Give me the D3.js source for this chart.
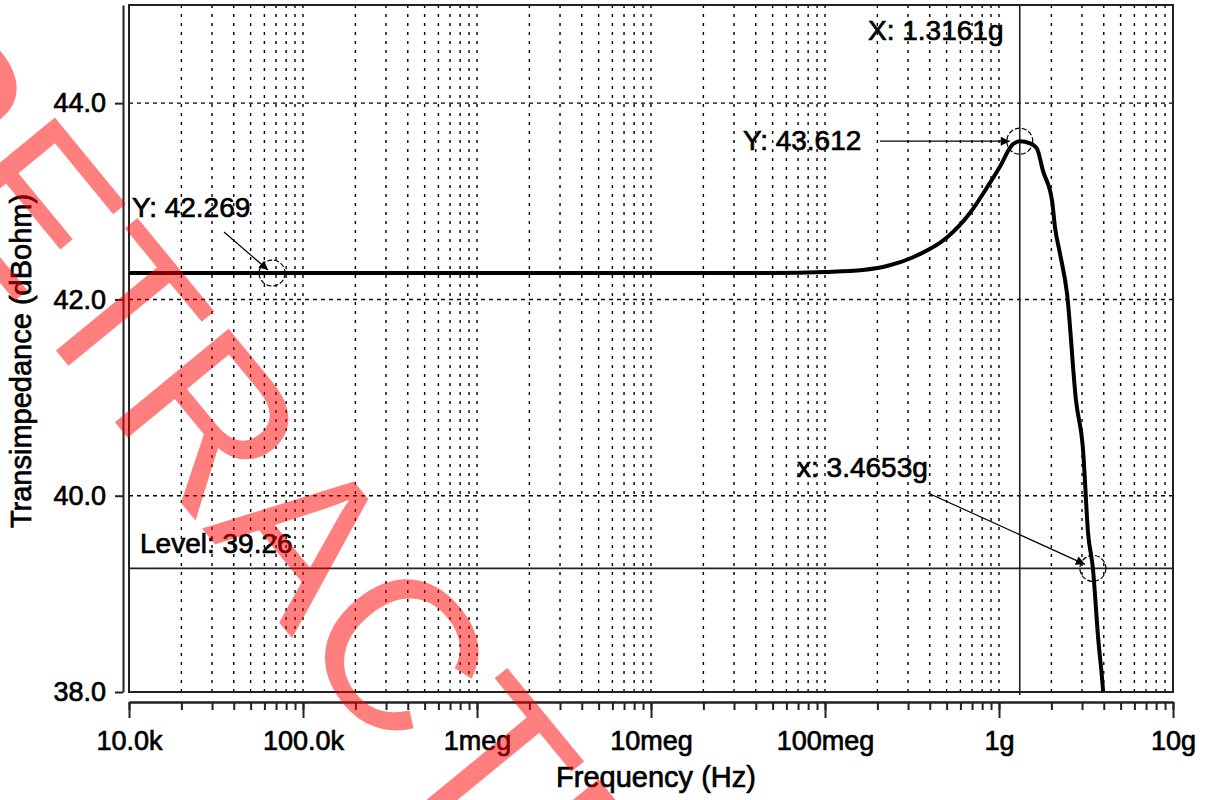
<!DOCTYPE html>
<html>
<head>
<meta charset="utf-8">
<script src="https://cdn.jsdelivr.net/npm/d3@7"></script>
<style>
  body { margin: 0; background: #fff; }
  text { font-family: "Liberation Sans", Arial, sans-serif; fill: #000; }
  .ink { stroke: #000; stroke-width: 0.7px; }
</style>
</head>
<body>
<div class="chart"></div>
<script>
// curve values
var freqHz = [1e4, 3e4, 1e5, 1e6, 1e7, 5e7, 1e8, 1.65e8, 2.27e8, 3.21e8, 5.02e8, 6.81e8, 8.53e8,
  1.01e9, 1.2e9, 1.3161e9, 1.51e9, 1.65e9, 1.79e9, 2.02e9, 2.10e9, 2.24e9, 2.46e9, 2.77e9,
  3.04e9, 3.25e9, 3.4653e9, 3.71e9, 3.96e9, 4.1e9];
var transZ = [42.269, 42.269, 42.269, 42.269, 42.269, 42.27, 42.28, 42.30, 42.34, 42.43, 42.63, 42.88, 43.14,
  43.35, 43.58, 43.612, 43.59, 43.54, 43.31, 43.00, 42.73, 42.47, 42.06, 40.97,
  40.47, 39.62, 39.26, 38.56, 38.02, 37.6];

// cursor markers
var markerFreq = [6.64e4, 1.3161e9, 3.4653e9];
var markerVal = [42.269, 43.612, 39.26];
var cursorX = 1.3161e9;
var levelY = 39.26;

var yTicks = [38, 40, 42, 44];
var xMajor = [1e4, 1e5, 1e6, 1e7, 1e8, 1e9, 1e10];
var xLabels = ["10.0k", "100.0k", "1meg", "10meg", "100meg", "1g", "10g"];

var svgWidth = 1207;
var svgHeight = 800;

var svg = d3.select(".chart")
  .append("svg")
  .attr("width", svgWidth)
  .attr("height", svgHeight);

var x = d3.scaleLog().domain([1e4, 1e10]).range([129, 1173]);
var y = d3.scaleLinear().domain([38, 45]).range([692, 5]);

// minor tick values 2..9 per decade plus decades
var xMinor = [];
for (var d = 4; d < 10; d++) {
  for (var m = 1; m <= 9; m++) xMinor.push(m * Math.pow(10, d));
}
xMinor.push(1e10);

// vertical dotted grid
svg.append("g").selectAll("line")
  .data(xMinor.filter(v => v > 1e4 && v < 1e10))
  .enter().append("line")
  .attr("x1", d => x(d)).attr("x2", d => x(d))
  .attr("y1", y(45)).attr("y2", y(38))
  .attr("stroke", "#000")
  .attr("stroke-width", 1.4)
  .attr("stroke-dasharray", "3,6");

// horizontal dashed grid
svg.append("g").selectAll("line")
  .data(yTicks.filter(v => v > 38))
  .enter().append("line")
  .attr("x1", x(1e4)).attr("x2", x(1e10))
  .attr("y1", d => y(d)).attr("y2", d => y(d))
  .attr("stroke", "#000")
  .attr("stroke-width", 1.4)
  .attr("stroke-dasharray", "4,4");

// plot frame
svg.append("rect")
  .attr("x", x(1e4)).attr("y", y(45))
  .attr("width", x(1e10) - x(1e4))
  .attr("height", y(38) - y(45))
  .attr("fill", "none")
  .attr("stroke", "#222")
  .attr("stroke-width", 2);

// y axis (separate from frame)
var leftAxis = d3.axisLeft(y)
  .tickValues(yTicks)
  .tickFormat(d3.format(".1f"))
  .tickSize(8)
  .tickSizeOuter(0)
  .tickPadding(9);

var yAxisG = svg.append("g")
  .attr("transform", "translate(123,0)")
  .call(leftAxis);
yAxisG.selectAll("text").classed("ink", true).style("font-size", "27px");

// x axis: minor ticks then major ticks with labels
var minorAxis = d3.axisBottom(x)
  .tickValues(xMinor)
  .tickFormat("")
  .tickSize(8)
  .tickSizeOuter(0);

var majorAxis = d3.axisBottom(x)
  .tickValues(xMajor)
  .tickFormat((d, i) => xLabels[i])
  .tickSize(16)
  .tickSizeOuter(0)
  .tickPadding(13);

svg.append("g").attr("transform", "translate(0,702)").call(minorAxis);
var xAxisG = svg.append("g").attr("transform", "translate(0,702)").call(majorAxis);
xAxisG.selectAll("text").classed("ink", true).style("font-size", "27px");

svg.selectAll(".domain, .tick line")
  .attr("stroke", "#222")
  .attr("stroke-width", 2);

// axis titles
svg.append("text")
  .attr("class", "ink")
  .attr("x", 656).attr("y", 787)
  .attr("text-anchor", "middle")
  .style("font-size", "29px")
  .text("Frequency (Hz)");

svg.append("text")
  .attr("class", "ink")
  .attr("transform", "translate(31,361) rotate(-90)")
  .attr("text-anchor", "middle")
  .style("font-size", "29px")
  .text("Transimpedance (dBohm)");

// cursors
svg.append("line")
  .attr("x1", x(cursorX)).attr("x2", x(cursorX))
  .attr("y1", y(45)).attr("y2", y(38) + 3)
  .attr("stroke", "#222").attr("stroke-width", 1.6);

svg.append("line")
  .attr("x1", x(1e4)).attr("x2", x(1e10))
  .attr("y1", y(levelY)).attr("y2", y(levelY))
  .attr("stroke", "#222").attr("stroke-width", 1.6);

// curve
svg.append("clipPath").attr("id", "plotClip")
  .append("rect")
  .attr("x", x(1e4)).attr("y", y(45))
  .attr("width", x(1e10) - x(1e4))
  .attr("height", y(38) - y(45));

var line = d3.line()
  .x((d, i) => x(freqHz[i]))
  .y(d => y(d))
  .curve(d3.curveMonotoneX);

svg.append("path")
  .datum(transZ)
  .attr("clip-path", "url(#plotClip)")
  .attr("d", line)
  .attr("fill", "none")
  .attr("stroke", "#000")
  .attr("stroke-width", 4);

// marker circles
svg.append("g").selectAll("circle")
  .data(markerVal)
  .enter().append("circle")
  .attr("cx", (d, i) => x(markerFreq[i]))
  .attr("cy", d => y(d))
  .attr("r", 13)
  .attr("fill", "none")
  .attr("stroke", "#000")
  .attr("stroke-width", 1.2)
  .attr("stroke-dasharray", "5,2");

// arrows
svg.append("defs").append("marker")
  .attr("id", "arrow")
  .attr("viewBox", "0 0 10 10")
  .attr("refX", 10).attr("refY", 5)
  .attr("markerWidth", 12).attr("markerHeight", 9)
  .attr("markerUnits", "userSpaceOnUse")
  .attr("orient", "auto")
  .append("path")
  .attr("d", "M0,0L10,5L0,10z")
  .attr("fill", "#000");

var arrows = [
  [224, 232, x(markerFreq[0]) - 4, y(markerVal[0]) - 3],
  [880, y(markerVal[1]), x(markerFreq[1]) - 10, y(markerVal[1])],
  [928, 493, x(markerFreq[2]) - 8, y(markerVal[2]) - 4]
];
svg.append("g").selectAll("line")
  .data(arrows)
  .enter().append("line")
  .attr("x1", d => d[0]).attr("y1", d => d[1])
  .attr("x2", d => d[2]).attr("y2", d => d[3])
  .attr("stroke", "#000")
  .attr("stroke-width", 1.2)
  .attr("marker-end", "url(#arrow)");

// annotation labels
var notes = [
  ["Y: 42.269", 132, 217],
  ["Y: 43.612", 743, 150],
  ["X: 1.3161g", 868, 40],
  ["x: 3.4653g", 797, 477],
  ["Level: 39.26", 140, 553]
];
svg.append("g").selectAll("text")
  .data(notes)
  .enter().append("text")
  .attr("class", "ink")
  .attr("x", d => d[1]).attr("y", d => d[2])
  .style("font-size", "28px")
  .text(d => d[0]);

// watermark
svg.append("text")
  .attr("transform", "translate(-168,78) rotate(50.6)")
  .style("font-size", "214px")
  .style("fill", "#ff0000")
  .style("fill-opacity", 0.5)
  .text("RETRACTED");
</script>
</body>
</html>
